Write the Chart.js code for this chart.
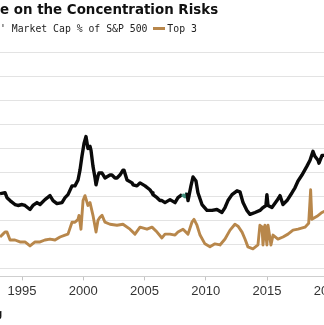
<!DOCTYPE html>
<html>
<head>
<meta charset="utf-8">
<script src="https://cdn.jsdelivr.net/npm/chart.js@4/dist/chart.umd.min.js"></script>
<style>
  html, body { margin: 0; padding: 0; background: #fff; }
  #wrap { position: relative; width: 324px; height: 325px; overflow: hidden; }
  #title { position: absolute; left: 0; top: 2px; font: bold 13.4px "DejaVu Sans", Verdana, sans-serif; line-height: 16px; color: #111; white-space: nowrap; }
  #legend { position: absolute; left: 0; top: 22px; font: 9.8px "DejaVu Sans Mono", monospace; line-height: 14px; color: #222; white-space: nowrap; }
  #legend .swatch { display: inline-block; width: 12px; height: 3px; background: #b8874b; vertical-align: middle; margin: 0 2px 0 0; position: relative; top: -1px; }
  #source { position: absolute; left: -4px; top: 308px; font: bold 10px "Liberation Sans", Arial, sans-serif; color: #111; }
  #chart { position: absolute; left: 0; top: 0; }
</style>
</head>
<body>
<div id="wrap">
  <canvas id="chart" width="360" height="325"></canvas>
  <div id="title">e on the Concentration Risks</div>
  <div id="legend">' Market Cap % of S&amp;P 500 <span class="swatch"></span>Top 3</div>
  <div id="source">g</div>
</div>
<script>
// top five names, share of index market cap (%)
const topFiveYears = [
  1993.20, 1993.61, 1993.77, 1994.02, 1994.42, 1994.67, 1995.00, 1995.24, 1995.65, 1995.89,
  1996.22, 1996.47, 1996.87, 1997.28, 1997.53, 1997.85, 1998.26, 1998.51, 1998.75, 1999.08,
  1999.32, 1999.57, 1999.73, 1999.89, 2000.06, 2000.22, 2000.38, 2000.55, 2000.63, 2000.79,
  2000.96, 2001.04, 2001.20, 2001.28, 2001.53, 2001.77, 2002.18, 2002.34, 2002.59, 2002.75,
  2002.99, 2003.24, 2003.32, 2003.57, 2003.98, 2004.06, 2004.38, 2004.63, 2005.04, 2005.44,
  2005.61, 2005.69, 2006.02, 2006.26, 2006.42, 2006.67, 2007.08, 2007.49, 2007.73, 2008.06,
  2008.30, 2008.47, 2008.55, 2008.79, 2008.96, 2009.20, 2009.36, 2009.69, 2010.10, 2010.51,
  2010.91, 2011.32, 2011.57, 2011.81, 2012.14, 2012.55, 2012.79, 2013.04, 2013.36, 2013.61,
  2014.02, 2014.42, 2014.67, 2014.91, 2014.99, 2015.08, 2015.40, 2015.81, 2016.06, 2016.30,
  2016.63, 2017.04, 2017.28, 2017.53, 2017.85, 2018.26, 2018.51, 2018.75, 2018.91, 2019.16,
  2019.24, 2019.49, 2019.81
];
const topFiveValues = [
  12.22, 12.30, 11.89, 11.65, 11.32, 11.24, 11.32, 11.24, 10.91, 11.24,
  11.48, 11.32, 11.73, 12.06, 11.65, 11.40, 11.48, 11.89, 12.14, 12.87,
  12.87, 13.36, 14.18, 15.33, 16.39, 16.97, 15.98, 16.15, 15.82, 14.51,
  13.53, 12.96, 13.69, 13.94, 13.94, 13.53, 13.77, 13.77, 13.53, 13.53,
  13.77, 14.18, 14.18, 13.36, 13.12, 12.96, 12.87, 13.12, 12.87, 12.55,
  12.30, 12.14, 11.89, 11.65, 11.65, 11.48, 11.73, 11.48, 11.89, 12.14,
  11.97, 12.30, 11.65, 12.87, 13.61, 13.28, 12.30, 11.32, 10.83, 10.83,
  10.91, 10.66, 11.07, 11.65, 12.14, 12.46, 12.38, 11.48, 10.83, 10.50,
  10.66, 10.83, 11.07, 11.24, 12.14, 11.24, 11.07, 11.65, 12.06, 11.32,
  11.65, 12.30, 12.71, 13.28, 13.77, 14.51, 15.00, 15.74, 15.33, 15.00,
  14.76, 15.41, 15.41
];

// top three names, share of index market cap (%)
const topThreeYears = [
  1993.20, 1993.44, 1993.61, 1993.77, 1994.02, 1994.42, 1994.83, 1995.24, 1995.65, 1996.06,
  1996.47, 1996.87, 1997.28, 1997.69, 1998.10, 1998.51, 1998.75, 1999.08, 1999.32, 1999.57,
  1999.65, 1999.81, 1999.98, 2000.14, 2000.38, 2000.55, 2000.79, 2001.04, 2001.20, 2001.36,
  2001.53, 2001.77, 2002.18, 2002.75, 2003.24, 2003.81, 2004.22, 2004.63, 2005.20, 2005.61,
  2006.02, 2006.42, 2006.67, 2007.08, 2007.49, 2007.73, 2008.14, 2008.55, 2008.87, 2009.04,
  2009.28, 2009.53, 2009.93, 2010.34, 2010.75, 2011.16, 2011.57, 2011.98, 2012.38, 2012.63,
  2012.96, 2013.20, 2013.44, 2013.85, 2014.26, 2014.42, 2014.59, 2014.67, 2014.83, 2014.99,
  2015.08, 2015.32, 2015.49, 2015.89, 2016.30, 2016.71, 2017.12, 2017.53, 2018.10, 2018.40,
  2018.50, 2018.56, 2018.66, 2019.08, 2019.49, 2019.81
];
const topThreeValues = [
  8.62, 8.86, 9.03, 9.03, 8.37, 8.37, 8.21, 8.21, 7.88, 8.21,
  8.21, 8.37, 8.45, 8.37, 8.62, 8.78, 8.86, 9.85, 9.85, 10.09,
  10.42, 9.27, 11.65, 12.06, 11.24, 11.48, 10.42, 9.03, 10.01, 10.26,
  10.42, 9.85, 9.68, 9.60, 9.68, 9.27, 8.86, 9.44, 9.27, 9.44,
  9.03, 8.54, 8.86, 8.86, 8.78, 9.03, 9.27, 8.86, 9.85, 10.09,
  9.60, 8.78, 8.05, 7.80, 8.05, 7.96, 8.45, 9.19, 9.68, 9.52,
  9.03, 8.45, 7.80, 7.64, 7.96, 9.60, 9.44, 7.96, 9.60, 7.96,
  9.60, 7.96, 8.78, 8.45, 8.62, 8.86, 9.19, 9.27, 9.44, 9.76,
  11.48, 12.55, 10.09, 10.34, 10.66, 10.83
];

const tickYears = [1995, 2000, 2005, 2010, 2015, 2020];
const gridValues = [6, 8, 10, 12, 14, 16, 18, 20, 22, 24];

const BLACK = '#0a0a0a';
const BROWN = '#b8874b';
const TEAL = '#3f8f7c';
// short stretch of the black line drawn in teal
const highlightFrom = 2008.0, highlightTo = 2008.5;

function toPoints(xs, ys) {
  return xs.map((x, i) => ({ x: x, y: ys[i] }));
}

new Chart(document.getElementById('chart').getContext('2d'), {
  type: 'line',
  data: {
    datasets: [
      {
        label: 'Top 3',
        data: toPoints(topThreeYears, topThreeValues),
        borderColor: BROWN,
        borderWidth: 2.9,
        pointRadius: 0,
        tension: 0,
        borderJoinStyle: 'round'
      },
      {
        label: 'Top 5',
        data: toPoints(topFiveYears, topFiveValues),
        borderColor: BLACK,
        borderWidth: 3.4,
        pointRadius: 0,
        tension: 0,
        borderJoinStyle: 'round',
        segment: {
          borderColor: ctx => (ctx.p0.parsed.x >= highlightFrom && ctx.p1.parsed.x <= highlightTo) ? TEAL : undefined
        }
      }
    ]
  },
  options: {
    responsive: false,
    animation: false,
    layout: { padding: { top: 52, bottom: 23, left: 0, right: 0 } },
    plugins: { legend: { display: false }, tooltip: { enabled: false } },
    scales: {
      x: {
        type: 'linear',
        min: 1993.2,
        max: 2022.59,
        afterBuildTicks: s => { s.ticks = tickYears.map(v => ({ value: v })); },
        ticks: {
          autoSkip: false,
          maxRotation: 0,
          padding: 3,
          color: '#333',
          font: { family: 'Liberation Sans', size: 13 },
          callback: v => String(v)
        },
        grid: { drawOnChartArea: false, drawTicks: true, tickLength: 4, color: '#c4c4c4' },
        border: { display: true, color: '#cfcfcf', width: 1 }
      },
      y: {
        min: 5.345,
        max: 24,
        afterBuildTicks: s => { s.ticks = gridValues.map(v => ({ value: v })); },
        ticks: { display: false },
        grid: { color: '#e3e3e3', lineWidth: 1, drawTicks: false },
        border: { display: false }
      }
    }
  }
});
</script>
</body>
</html>
